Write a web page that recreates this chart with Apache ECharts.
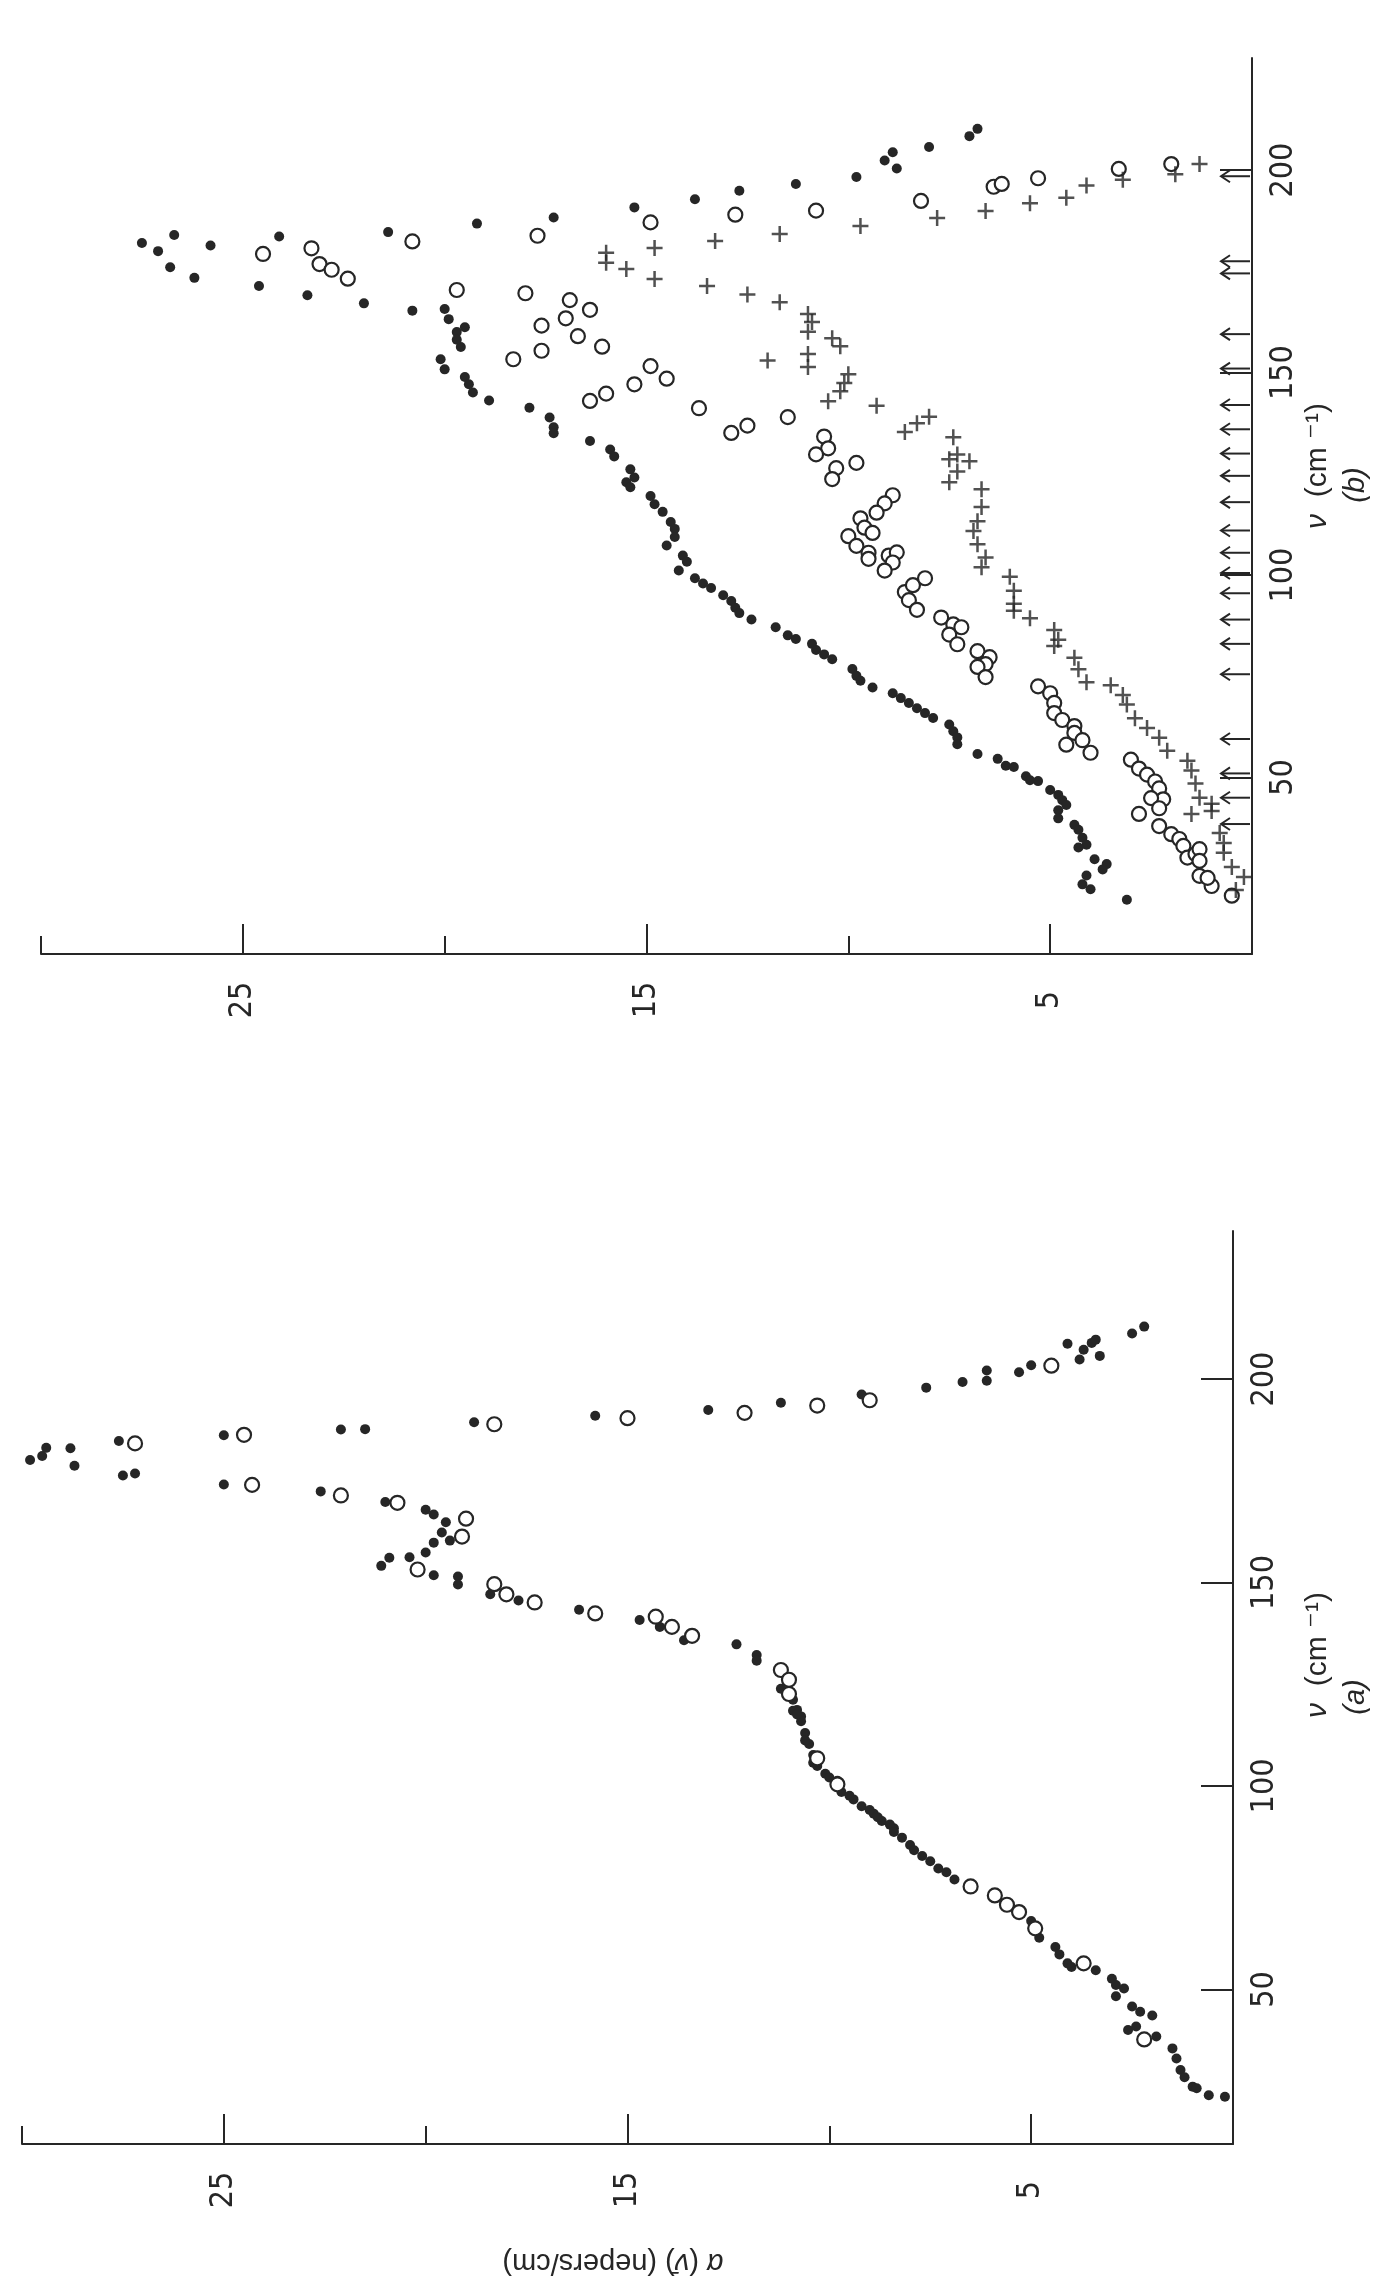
<!DOCTYPE html>
<html>
<head>
<meta charset="utf-8">
<script src="https://cdn.jsdelivr.net/npm/echarts@6/dist/echarts.min.js"></script>
<style>
html,body{margin:0;padding:0;background:#fff;}
#chart{width:1400px;height:2285px;}
</style>
</head>
<body>
<div id="chart"></div>
<script>
// ---------- tick values ----------
const alphaLabelTicks = [5, 15, 25];
const alphaMinorTicks = [10, 20, 30];
const nuTicks = [50, 100, 150, 200];

// ---------- panel (b): [alpha, nu] ----------
const bFilled = [
[27.5,182],[27.1,180],[26.7,184],[26.8,176],
[25.8,181.4],[26.2,173.4],[24.1,183.6],[24.6,171.4],[23.4,169.1],[21.4,184.7],[22.0,167.1],[20.8,165.3],[19.2,186.8],[17.3,188.3],
[20.0,165.7],[19.9,163.2],[19.7,160],[19.5,161.2],[19.6,156.3],[19.7,158.1],[20.1,153.3],[20.0,150.8],[19.5,148.9],[19.4,147.1],[19.3,145.1],
[18.9,143.1],[17.9,141.3],[17.4,138.9],[17.3,136.5],[17.3,135],[16.4,133.1],[15.9,131],
[15.3,190.8],[13.8,192.8],[12.7,194.9],[11.3,196.6],[9.8,198.3],[9.1,202.4],[8.9,204.4],[8.8,200.4],[8.0,205.7],[7.0,208.4],[6.8,210.2],
[15.8,129.3],[15.4,126.1],[15.3,124.1],[15.5,122.9],[15.4,121.7],[14.9,119.5],[14.8,117.5],[14.6,115.6],[14.4,113.1],[14.3,111.4],[14.3,109.4],
[14.5,107.3],[14.1,104.8],[14.0,103.3],[14.2,101.1],[13.8,99.2],[13.6,97.9],[13.4,96.8],[13.1,95.0],[12.9,93.6],[12.8,91.9],[12.7,90.6],[12.4,89.0],
[11.8,87.1],[11.5,85.1],[11.3,84.2],[10.9,83.0],[10.8,81.5],[10.6,80.4],[10.4,79.2],[9.9,76.8],[9.8,75.1],[9.7,73.9],[9.4,72.2],[8.9,70.8],[8.7,69.6],
[8.5,68.4],[8.3,67.1],[8.1,65.9],[7.9,64.7],[7.5,63.1],[7.4,61.4],[7.3,59.9],[7.3,58.2],[6.8,55.8],[6.3,54.6],
[6.1,52.9],[5.9,52.6],[5.6,50.3],[5.5,49.3],[5.3,49.1],[5.0,46.9],[4.8,45.7],[4.7,44.4],[4.6,43.2],[4.8,41.9],[4.8,39.9],[4.4,38.3],[4.3,37.1],
[4.2,35.1],[4.1,33.4],[4.3,32.7],[3.9,29.8],[3.6,28.6],[3.7,27.3],[4.1,25.8],[4.2,23.6],[4.0,22.4],[3.1,19.8]
];
const bOpen = [
[24.5,179.3],[23.3,180.7],[23.1,176.8],[22.8,175.4],[22.4,173.2],[20.8,182.4],[17.7,183.8],[19.7,170.4],[18.0,169.6],[16.9,167.9],[17.0,163.4],
[16.4,165.5],[17.6,161.6],[16.7,159],[17.6,155.4],[18.3,153.3],[16.1,156.4],[16.4,143],[16.0,144.8],
[14.9,187.1],[12.8,189],[10.8,190],[8.2,192.4],[14.9,151.6],[15.3,147.1],[14.5,148.5],[13.7,141.2],[11.5,139],[12.9,135.1],[12.5,136.9],
[10.6,134.2],[10.5,131.3],[10.8,129.8],[10.3,126.4],[10.4,123.7],[9.8,127.7],[8.9,119.7],[9.1,117.7],[9.3,115.4],[9.7,114],[9.6,111.7],[10.0,109.6],
[6.4,195.9],[6.2,196.6],[5.3,198],[3.3,200.3],[2.0,201.5],
[9.8,107.2],[9.5,105.5],[9.4,110.4],[9.5,104],[9.0,104.8],[8.8,105.6],[8.9,103.1],[9.1,101.1],[8.6,95.8],[8.4,97.5],[8.1,99.2],[8.5,93.8],[8.3,91.4],
[7.7,89.5],[7.4,87.8],[7.2,87.1],[7.5,85.3],[7.3,82.9],[6.8,81.2],[6.5,79.7],[6.6,78],[6.8,77.3],[6.6,74.8],
[5.3,72.5],[5.0,70.8],[4.9,68.4],[4.9,65.9],[4.7,64.2],[4.4,62.7],[4.4,61],[4.2,59.2],[4.6,58.1],[4.0,56.1],[3.0,54.4],[2.8,52.2],[2.6,50.7],
[2.4,49],[2.3,47.3],[2.2,44.6],[2.5,44.9],[2.8,41],[2.3,42.4],[2.3,38],[2.0,36],[1.8,34.8],[1.7,33.1],[1.6,30.2],[1.4,31.1],[1.3,32.3],[1.3,29.4],
[1.3,25.7],[1.0,23.2],[1.1,25.2],[0.5,20.8]
];
const bPlus = [
[16.0,179.6],[16.0,177.1],[15.5,175.6],[14.8,180.8],[14.8,173.1],[13.3,182.5],[11.7,184.2],[9.7,186.2],[7.8,188.2],[6.6,189.9],
[13.5,171.4],[12.5,169.3],[11.7,167.4],[11.0,164.5],[10.9,162.5],[11.0,160.1],[10.4,158.5],[10.2,156.5],[12.0,153],[11.0,154.6],[11.0,151.4],
[10.0,149.6],[10.1,147.4],[10.2,145.4],[10.5,142.9],[9.3,141.8],[8.6,135.3],[8.3,137.5],[8.0,139.1],[7.4,134],[7.3,129.8],[7.0,128.1],[7.5,128.6],
[7.5,122.9],[7.3,125.6],[6.7,121.2],[6.7,116.8],[6.8,113.3],[6.9,110.9],
[5.5,191.8],[4.6,193.2],[4.1,196.2],[3.2,197.6],[1.9,199],[1.3,201.5],
[6.8,107.6],[6.7,101.9],[6.6,104.3],
[6.0,99.6],[5.9,96.1],[5.9,92.9],[5.9,91.2],[5.5,89.3],[4.9,86.4],[4.8,84],[4.9,82.5],[4.4,79.6],[4.3,76.7],[4.1,73.5],[3.5,72.8],[3.2,70.4],
[3.1,68],[2.9,64.6],[2.6,62.2],[2.3,59.8],[2.1,56.6],[1.6,54.1],[1.5,51.7],[1.4,48.5],[1.3,45],[1.0,43.5],[1.5,41],[1.0,41.7],[0.8,36.3],
[0.7,33.8],[0.7,31.4],[0.5,27.9],[0.2,25.4],[0.4,22.2]
];
const bArrowNu = [198.5,177.5,174.5,159.5,151,142,136,130,124.5,118,111,105.5,100.5,95.5,89,83,75.5,59.5,51,45,38.5];

// ---------- panel (a): [alpha, nu] ----------
const aFilled = [
[29.8,180.1],[29.5,181.1],[29.4,183.1],[28.8,183.0],[28.7,178.7],[27.6,184.8],[27.5,176.3],[27.2,176.8],[25.0,186.2],[25.0,174.1],[22.1,187.6],
[21.5,187.7],[22.6,172.4],[21.0,169.8],[18.8,189.4],
[20.0,167.9],[19.8,166.7],[19.5,164.8],[19.6,162.3],[19.8,159.8],[20.0,157.4],[19.4,160.3],
[21.1,154.1],[20.9,156.1],[20.4,156.2],[19.8,151.8],[19.2,151.5],[19.2,149.5],[18.4,147.1],
[15.8,191.0],[13.0,192.4],[11.2,194.2],[9.2,196.2],
[17.7,145.6],[16.2,143.3],[14.7,140.8],[14.2,139.1],[13.6,135.8],[12.3,134.8],[11.8,132.2],[11.8,130.8],[11.2,123.9],[10.9,121.2],[10.8,118.7],[10.7,117.1],
[7.6,197.9],[6.7,199.3],[6.1,202.1],[6.1,199.6],[5.3,201.7],[5.0,203.4],[4.1,208.7],[3.8,204.8],[3.7,207.2],[3.5,208.9],[3.3,205.7],[3.4,209.7],
[2.5,211.2],[2.2,212.9],
[10.9,118.5],[10.7,115.9],[10.6,113],[10.5,110.3],[10.4,107.6],[10.3,104.9],[10.1,103],[9.8,101.3],[9.7,98.5],[9.4,96.7],[9.2,95],[8.9,93.2],[8.7,91.4],[8.4,89.6],
[10.8,117.6],[10.6,111.2],[10.4,105.7],[10.0,102.1],[9.5,97.6],[9.0,94.1],[8.8,92.3],[8.5,90.5],
[8.4,88.7],[8.2,87.3],[8.0,85.5],[7.9,84.2],[7.7,82.8],[7.5,81.5],[7.3,79.7],[7.1,78.8],[6.9,77],
[5.0,66.8],[4.8,62.7],[4.4,60.4],[4.3,58.6],[4.1,56.4],[4.0,55.5],
[3.4,54.7],[3.0,52.6],[2.9,51.1],[2.9,48.3],[2.7,50.2],
[2.5,45.8],[2.3,44.5],[2.0,43.6],[2.6,40],[2.4,40.9],
[1.9,38.4],[1.5,35.5],[1.4,33],[1.3,30.2],[1.2,28.4],[1.0,26.1],[0.9,25.7],[0.6,24],[0.2,23.6]
];
const aOpen = [
[27.2,184.2],[24.5,186.3],[24.3,174.0],[22.1,171.4],[20.7,169.6],[19.0,165.7],[19.1,161.3],[20.2,153.2],[18.3,149.6],
[18.3,188.9],[15.0,190.4],[12.1,191.7],[10.3,193.5],[9.0,194.8],
[18.0,147.1],[17.3,145.1],[15.8,142.4],[14.3,141.6],[13.9,139.1],[13.4,136.9],[11.2,128.5],[11.0,126.1],[11.0,122.6],
[4.5,203.3],[10.3,106.8],[9.8,100.4],
[6.5,75.3],[5.9,73.1],[5.6,70.8],[5.3,69],[4.9,65],[3.7,56.4],[2.2,37.7]
];

// ---------- styling ----------
const INK = '#262626';
const NUM_FONT = "'Liberation Sans Narrow','DejaVu Sans Condensed','Liberation Sans',sans-serif";
const TXT_FONT = "'Liberation Sans','DejaVu Sans',sans-serif";
const PLUS = 'path://M6.75,0H9.25V6.75H16V9.25H9.25V16H6.75V9.25H0V6.75H6.75Z';

function alphaAxes(grid) {
  return [
    { gridIndex: grid, type: 'value', min: 0, max: 30, inverse: true, position: 'bottom',
      axisLine: { show: true, lineStyle: { color: INK, width: 2 } },
      axisTick: { show: true, inside: true, length: 30, customValues: alphaLabelTicks, lineStyle: { color: INK, width: 2 } },
      axisLabel: { show: true, customValues: alphaLabelTicks, rotate: 90, align: 'center', verticalAlign: 'middle', margin: 46,
        color: INK, fontSize: 32, fontFamily: NUM_FONT },
      splitLine: { show: false } },
    { gridIndex: grid, type: 'value', min: 0, max: 30, inverse: true, position: 'bottom',
      axisLine: { show: false },
      axisTick: { show: true, inside: true, length: 18, customValues: alphaMinorTicks, lineStyle: { color: INK, width: 2 } },
      axisLabel: { show: false }, splitLine: { show: false } }
  ];
}
function nuAxis(grid, min, max) {
  return { gridIndex: grid, type: 'value', min: min, max: max, position: 'right',
    axisLine: { show: true, lineStyle: { color: INK, width: 2 } },
    axisTick: { show: true, inside: true, length: 32, customValues: nuTicks, lineStyle: { color: INK, width: 2 } },
    axisLabel: { show: true, customValues: nuTicks, rotate: 90, align: 'center', verticalAlign: 'top', margin: 16,
      color: INK, fontSize: 32, fontFamily: NUM_FONT },
    splitLine: { show: false } };
}
function filled(data, xi, yi) {
  return { type: 'scatter', xAxisIndex: xi, yAxisIndex: yi, data: data, symbol: 'circle', symbolSize: 10,
    itemStyle: { color: INK, opacity: 1 }, silent: true };
}
function open(data, xi, yi) {
  return { type: 'scatter', xAxisIndex: xi, yAxisIndex: yi, data: data, symbol: 'circle', symbolSize: 14,
    itemStyle: { color: '#fff', borderColor: INK, borderWidth: 2.2, opacity: 1 }, silent: true };
}
function nuName(yCenter) {
  return { type: 'text', x: 1318, y: yCenter, rotation: Math.PI / 2,
    style: { text: '{i|ν}  (cm ⁻¹)', rich: { i: { fontStyle: 'italic', fontSize: 30, fill: INK } },
      fontSize: 30, fill: INK, align: 'center', verticalAlign: 'middle', fontFamily: TXT_FONT } };
}
function panelTag(tag, yCenter) {
  return { type: 'text', x: 1356, y: yCenter, rotation: Math.PI / 2,
    style: { text: tag, fontStyle: 'italic', fontSize: 29, fill: INK, align: 'center', verticalAlign: 'middle', fontFamily: TXT_FONT } };
}

const chart = echarts.init(document.getElementById('chart'), null, { renderer: 'canvas', width: 1400, height: 2285 });
chart.setOption({
  backgroundColor: '#ffffff',
  animation: false,
  textStyle: { fontFamily: TXT_FONT },
  grid: [
    { left: 41, top: 58, width: 1211, height: 896 },
    { left: 22, top: 1231, width: 1211, height: 913 }
  ],
  xAxis: [].concat(alphaAxes(0), alphaAxes(1)),
  yAxis: [nuAxis(0, 6.4, 227.7), nuAxis(1, 12.0, 236.4)],
  series: [
    filled(bFilled, 0, 0),
    open(bOpen, 0, 0),
    { type: 'scatter', xAxisIndex: 0, yAxisIndex: 0, data: bPlus, symbol: PLUS, symbolSize: 16,
      itemStyle: { color: INK }, silent: true },
    { type: 'custom', xAxisIndex: 0, yAxisIndex: 0, silent: true,
      data: bArrowNu.map(v => [0, v]),
      renderItem: function (params, api) {
        const p = api.coord([0, api.value(1)]);
        const x = p[0], y = p[1];
        return { type: 'group', children: [
          { type: 'line', shape: { x1: x - 2, y1: y, x2: x - 30, y2: y }, style: { stroke: INK, lineWidth: 2 } },
          { type: 'polyline', shape: { points: [[x - 22, y - 6], [x - 31, y], [x - 22, y + 6]] }, style: { stroke: INK, lineWidth: 2, fill: null } }
        ] };
      } },
    filled(aFilled, 2, 1),
    open(aOpen, 2, 1)
  ],
  graphic: [
    nuName(466), panelTag('(b)', 485),
    nuName(1655), panelTag('(a)', 1697),
    { type: 'text', x: 613, y: 2262, rotation: Math.PI,
      style: { text: '{i|α} ({i|ν̄}) (nepers/cm)', rich: { i: { fontStyle: 'italic', fontSize: 29, fill: INK } },
        fontSize: 29, fill: INK, align: 'center', verticalAlign: 'middle', fontFamily: TXT_FONT } }
  ]
});
</script>
</body>
</html>
